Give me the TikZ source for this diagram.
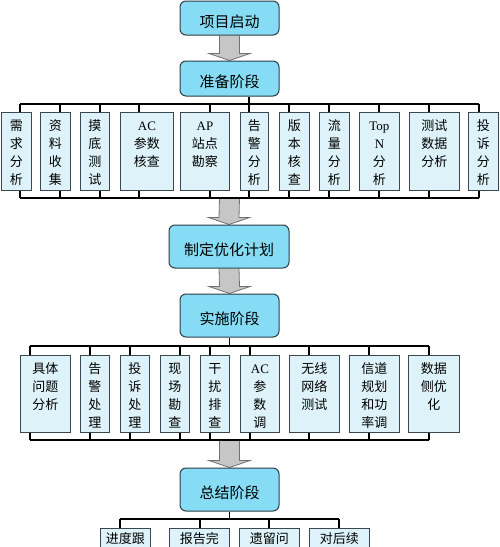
\documentclass[tikz,border=0pt]{standalone}
\usepackage{fontspec}
\setmainfont{Noto Sans CJK SC}
\newfontfamily\lat{Liberation Serif}
\usetikzlibrary{calc,backgrounds}
\definecolor{mainfill}{HTML}{86DCF4}
\definecolor{mainline}{HTML}{2E3C48}
\definecolor{subfill}{HTML}{DDF3F9}
\definecolor{subline}{HTML}{3C464E}
\definecolor{arrfill}{HTML}{C6C6C6}
\definecolor{arrline}{HTML}{707070}
\newcommand\cell[4]{\parbox[c][#2pt][t]{\dimexpr#1pt-2pt\relax}{\centering\fontsize{13}{17.7}\selectfont\rule{0pt}{#4pt}#3\par}}
\newcommand\subbox[6]{\node[sub, minimum width=#4pt, minimum height=#5pt] (#1) at (#2,#3) {\cell{#4}{#5}{#6}{18.5}};}
\newcommand\lowbox[6]{\node[sub, minimum width=#4pt, minimum height=#5pt] (#1) at (#2,#3) {\cell{#4}{#5}{#6}{15.5}};}
\newcommand\blkarrow[2]{\draw[blk] ($(#1)+(-10,0)$) -- ($(#2)+(-10,-7)$) -- ($(#2)+(-20.5,-7)$) -- (#2) -- ($(#2)+(20.5,-7)$) -- ($(#2)+(10,-7)$) -- ($(#1)+(10,0)$);}
\begin{document}
\begin{tikzpicture}[x=1pt,y=-1pt,
  sub/.style={draw=subline, fill=subfill, line width=0.9pt, inner sep=0pt, anchor=north west},
  mainbox/.style={draw=mainline, fill=mainfill, line width=1pt, rounded corners=6pt, inner sep=0pt,
    font=\fontsize{15}{18}\selectfont, text height=18pt, text depth=0pt},
  blk/.style={draw=arrline, fill=arrfill, line width=0.8pt, line join=miter},
  wire/.style={draw=black, line width=1.3pt}]
\useasboundingbox (0,0) rectangle (500,547);
\clip (0,0) rectangle (500,547);

% main boxes
\node[mainbox, minimum width=99pt, minimum height=34pt] (m1) at (229.5,18) {项目启动};
\node[mainbox, minimum width=99pt, minimum height=35pt] (m2) at (229.5,78.5) {准备阶段};
\node[mainbox, minimum width=120pt, minimum height=43pt] (m3) at (229,246.5) {制定优化计划};
\node[mainbox, minimum width=99pt, minimum height=43pt] (m4) at (229.5,315.5) {实施阶段};
\node[mainbox, minimum width=99pt, minimum height=43pt] (m5) at (229.5,489.5) {总结阶段};

% row 1
\subbox{a1}{1}{112}{30}{78}{需\\求\\分\\析}
\subbox{a2}{40}{112}{30}{78}{资\\料\\收\\集}
\subbox{a3}{80}{112}{29}{78}{摸\\底\\测\\试}
\subbox{a4}{120}{112}{53}{78}{{\lat AC}\\参数\\核查}
\subbox{a5}{180}{112}{49}{78}{{\lat AP}\\站点\\勘察}
\subbox{a6}{240}{112}{28}{78}{告\\警\\分\\析}
\subbox{a7}{279}{112}{30}{78}{版\\本\\核\\查}
\subbox{a8}{319}{112}{30}{78}{流\\量\\分\\析}
\subbox{a9}{359}{112}{40}{78}{{\lat Top}\\{\lat N}\\分\\析}
\subbox{a10}{409}{112}{50}{78}{测试\\数据\\分析}
\subbox{a11}{468}{112}{30}{78}{投\\诉\\分\\析}

% row 2
\subbox{b1}{20}{355}{50}{77}{具体\\问题\\分析}
\subbox{b2}{80}{355}{29}{77}{告\\警\\处\\理}
\subbox{b3}{120}{355}{29}{77}{投\\诉\\处\\理}
\subbox{b4}{160}{355}{29}{77}{现\\场\\勘\\查}
\subbox{b5}{200}{355}{29}{77}{干\\扰\\排\\查}
\subbox{b6}{240}{355}{39}{77}{{\lat AC}\\参\\数\\调}
\subbox{b7}{289}{355}{50}{77}{无线\\网络\\测试}
\subbox{b8}{349}{355}{50}{77}{信道\\规划\\和功\\率调}
\subbox{b9}{408}{355}{51}{77}{数据\\侧优\\化}

% row 3
\lowbox{c1}{100}{528}{50}{45}{进度跟}
\lowbox{c2}{169}{528}{60}{45}{报告完}
\lowbox{c3}{239}{528}{60}{45}{遗留问}
\lowbox{c4}{309}{528}{60}{45}{对后续}

% bus coordinates
\coordinate (u1) at (249,104);
\coordinate (d1) at (229.5,198);
\coordinate (u2) at (229.5,346);
\coordinate (d2) at (229.5,440);
\coordinate (u3) at (229.5,519);

\begin{pgfonlayer}{background}
\fill[white] (0,0) rectangle (500,547);
% block arrows
\blkarrow{m1.south}{m2.north}
\blkarrow{d1}{m3.north}
\blkarrow{m3.south}{m4.north}
\blkarrow{d2}{m5.north}

% row 1 wiring
\draw[wire] (20,104) -- (479,104);
\draw[wire] (20,198) -- (479,198);
\draw[wire] (m2.south -| u1) -- (u1);
\foreach \n/\x in {a1/20,a2/60,a3/100,a4/139,a5/210,a6/249,a7/289,a8/329,a9/379,a10/429,a11/479}{
  \coordinate (t) at (\x,104);
  \draw[wire] (t) -- (t |- \n.north);
  \draw[wire] (t |- \n.south) -- (t |- d1);
}
% row 2 wiring
\draw[wire] (30,346) -- (429,346);
\draw[wire] (30,440) -- (429,440);
\draw[wire] (m4.south) -- (u2);
\foreach \n/\x in {b1/30,b2/90,b3/130,b4/180,b5/210,b6/250,b7/309,b8/369,b9/429}{
  \coordinate (t) at (\x,346);
  \draw[wire] (t) -- (t |- \n.north);
  \draw[wire] (t |- \n.south) -- (t |- d2);
}
% row 3 wiring
\draw[wire] (120,519) -- (339,519);
\draw[wire] (m5.south) -- (u3);
\foreach \n/\x in {c1/120,c2/200,c3/269,c4/339}{
  \coordinate (t) at (\x,519);
  \draw[wire] (t) -- (t |- \n.north);
}
\end{pgfonlayer}
\end{tikzpicture}
\end{document}
